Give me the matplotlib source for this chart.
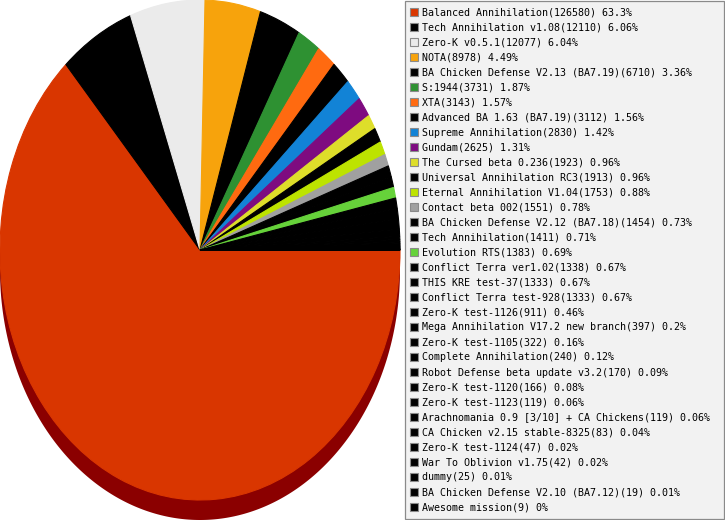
import numpy as np
import matplotlib
matplotlib.use("Agg")
import matplotlib.pyplot as plt
from matplotlib.patches import Rectangle, Polygon

names = [
    "Balanced Annihilation", "Tech Annihilation v1.08", "Zero-K v0.5.1", "NOTA",
    "BA Chicken Defense V2.13 (BA7.19)", "S:1944", "XTA", "Advanced BA 1.63 (BA7.19)",
    "Supreme Annihilation", "Gundam", "The Cursed beta 0.236", "Universal Annihilation RC3",
    "Eternal Annihilation V1.04", "Contact beta 002", "BA Chicken Defense V2.12 (BA7.18)",
    "Tech Annihilation", "Evolution RTS", "Conflict Terra ver1.02", "THIS KRE test-37",
    "Conflict Terra test-928", "Zero-K test-1126", "Mega Annihilation V17.2 new branch",
    "Zero-K test-1105", "Complete Annihilation", "Robot Defense beta update v3.2",
    "Zero-K test-1120", "Zero-K test-1123", "Arachnomania 0.9 [3/10] + CA Chickens",
    "CA Chicken v2.15 stable-8325", "Zero-K test-1124", "War To Oblivion v1.75",
    "dummy", "BA Chicken Defense V2.10 (BA7.12)", "Awesome mission",
]
counts = [126580, 12110, 12077, 8978, 6710, 3731, 3143, 3112, 2830, 2625, 1923, 1913,
          1753, 1551, 1454, 1411, 1383, 1338, 1333, 1333, 911, 397, 322, 240, 170, 166,
          119, 119, 83, 47, 42, 25, 19, 9]
percents = ["63.3", "6.06", "6.04", "4.49", "3.36", "1.87", "1.57", "1.56", "1.42", "1.31",
            "0.96", "0.96", "0.88", "0.78", "0.73", "0.71", "0.69", "0.67", "0.67", "0.67",
            "0.46", "0.2", "0.16", "0.12", "0.09", "0.08", "0.06", "0.06", "0.04", "0.02",
            "0.02", "0.01", "0.01", "0"]
colors = ["#d93600", "#000000", "#ebebeb", "#f7a30c", "#000000", "#2e9132", "#ff6a10",
          "#000000", "#1283d6", "#7e0b80", "#dede2a", "#000000", "#bde300", "#a0a0a0",
          "#000000", "#000000", "#66d23a"] + ["#000000"] * 17

W, H = 725, 520
fig = plt.figure(figsize=(W / 100, H / 100), dpi=100)

# Pie axes: ellipse 400 x 500 px, center at (200, 250) image px
pax = fig.add_axes([0, 20 / H, 400 / W, 500 / H])
wedges, _ = pax.pie(counts, colors=colors, startangle=0, counterclock=False,
                    radius=1, center=(0, 0),
                    wedgeprops=dict(linewidth=0.8, antialiased=True))
for w, c in zip(wedges, colors):
    w.set_edgecolor(c)
    w.set_zorder(3)

# 3D side wall (shadow)
d = 20 / 250
t = np.linspace(np.pi, 2 * np.pi, 300)
pts = [(-1, 0)] + list(zip(np.cos(t), np.sin(t) - d)) + [(1, 0)]
wall = Polygon(pts, closed=True, facecolor="#8b0000", edgecolor="none",
               zorder=1, clip_on=False)
pax.add_patch(wall)
pax.set_aspect("auto")
pax.set_xlim(-1, 1)
pax.set_ylim(-1, 1)
pax.axis("off")

# Legend in pixel coordinates
lax = fig.add_axes([0, 0, 1, 1], zorder=5)
lax.set_xlim(0, W)
lax.set_ylim(H, 0)
lax.axis("off")
lax.patch.set_alpha(0)
lax.add_patch(Rectangle((405, 1), 319, 518, facecolor="#f2f2f2",
                        edgecolor="#8a8a8a", linewidth=0.9))
for i, (n, c, p, col) in enumerate(zip(names, counts, percents, colors)):
    y = 12 + 15 * i
    lax.add_patch(Rectangle((410.5, y - 4), 8, 8, facecolor=col,
                            edgecolor="#8a8a8a", linewidth=0.8))
    lax.text(422, y + 0.5, f"{n}({c}) {p}%", fontsize=7.2,
             family="DejaVu Sans Mono", va="center", ha="left", color="#000000")

fig.savefig("out.png", dpi=100)
